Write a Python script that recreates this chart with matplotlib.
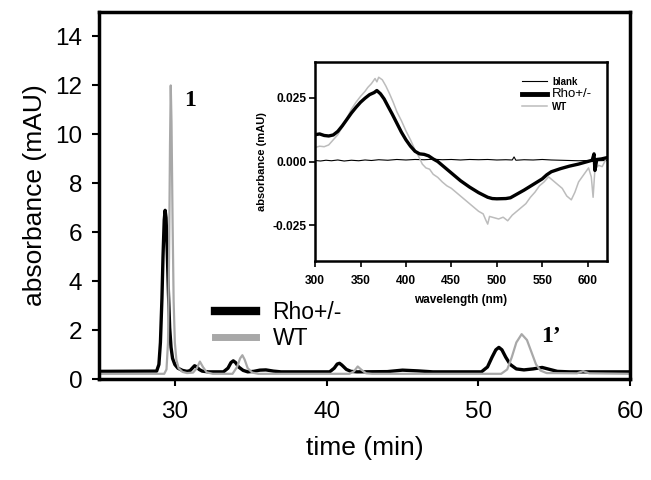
import matplotlib
matplotlib.use("Agg")
import matplotlib.pyplot as plt

plt.rcParams['font.family'] = ['Liberation Sans', 'DejaVu Sans']

# chromatogram, time (min) vs absorbance (mAU)
rho_t = [25.0, 28.8, 28.95, 29.05, 29.15, 29.22, 29.3, 29.36, 29.42, 29.5, 29.58, 29.66,
         29.75, 29.85, 30.0, 30.2, 30.5, 30.8, 31.0, 31.15, 31.3, 31.45, 31.6, 31.8, 32.2,
         33.2, 33.5, 33.7, 33.85, 34.0, 34.2, 34.5, 34.8, 35.2, 35.6, 36.0, 36.5, 37.0,
         40.2, 40.5, 40.7, 40.85, 41.0, 41.3, 41.6, 42.0, 44.0, 45.0, 46.0, 47.0,
         50.2, 50.6, 50.9, 51.15, 51.35, 51.55, 51.8, 52.1, 52.5, 53.0, 53.6, 54.2, 54.7,
         55.2, 56.0, 60.0]
rho_a = [0.32, 0.33, 0.6, 1.5, 3.3, 5.0, 6.5, 6.9, 6.6, 5.2, 3.5, 2.1,
         1.3, 0.85, 0.6, 0.45, 0.36, 0.32, 0.35, 0.45, 0.55, 0.5, 0.4, 0.33, 0.3,
         0.3, 0.45, 0.68, 0.75, 0.68, 0.5, 0.36, 0.3, 0.32, 0.37, 0.38, 0.33, 0.3,
         0.3, 0.45, 0.62, 0.65, 0.58, 0.4, 0.32, 0.3, 0.31, 0.37, 0.34, 0.3,
         0.3, 0.5, 0.9, 1.2, 1.3, 1.2, 0.9, 0.6, 0.42, 0.38, 0.42, 0.48, 0.4,
         0.32, 0.3, 0.3]

wt_t = [25.0, 29.3, 29.45, 29.55, 29.62, 29.68, 29.73, 29.78, 29.85, 29.92, 30.0, 30.1,
        30.25, 30.5, 30.8, 31.2, 31.45, 31.65, 31.85, 32.1, 32.5, 33.8, 34.1, 34.3, 34.45,
        34.6, 34.8, 35.1, 35.5, 41.5, 41.8, 42.05, 42.3, 42.6, 43.0, 51.5, 51.9, 52.2,
        52.5, 52.85, 53.2, 53.5, 53.8, 54.1, 54.5, 56.5, 56.9, 57.3, 60.0]
wt_a = [0.22, 0.22, 0.4, 1.5, 5.0, 9.5, 12.0, 10.5, 6.5, 3.2, 1.5, 0.8,
        0.45, 0.3, 0.25, 0.27, 0.45, 0.72, 0.5, 0.28, 0.22, 0.22, 0.5, 0.85, 0.98,
        0.8, 0.45, 0.27, 0.22, 0.22, 0.32, 0.52, 0.38, 0.24, 0.22, 0.22, 0.4, 0.9,
        1.5, 1.84, 1.6, 1.1, 0.6, 0.35, 0.25, 0.24, 0.33, 0.24, 0.22]

# inset spectra, wavelength (nm) vs absorbance
rho_nm = [300, 305, 310, 315, 320, 325, 330, 335, 340, 345, 350, 355, 360, 365, 368, 372,
          376, 380, 385, 390, 395, 400, 405, 410, 415, 420, 425, 430, 435, 440, 450, 460,
          470, 480, 490, 495, 500, 510, 515, 520, 530, 540, 550, 555, 560, 570, 580, 590,
          600, 605, 607, 608, 610, 615, 621]
rho_s = [0.0105, 0.0108, 0.0102, 0.0100, 0.0104, 0.0118, 0.0140, 0.0165, 0.0190, 0.0212,
         0.0232, 0.0248, 0.0262, 0.0270, 0.0278, 0.0265, 0.0245, 0.0218, 0.0185, 0.0150,
         0.0115, 0.0085, 0.0060, 0.0040, 0.0030, 0.0028, 0.0022, 0.0010, 0.0000, -0.0015,
         -0.0045, -0.0075, -0.0100, -0.0122, -0.0140, -0.0145, -0.0146, -0.0145, -0.0142,
         -0.0132, -0.0112, -0.0090, -0.0068, -0.0052, -0.0040, -0.0028, -0.0018, -0.0010,
         0.0000, 0.0005, 0.0030, -0.0035, 0.0008, 0.0010, 0.0015]

wt_nm = [300, 305, 310, 315, 320, 325, 330, 335, 340, 345, 350, 355, 358, 362, 366, 368,
         370, 374, 378, 382, 386, 390, 395, 400, 405, 410, 414, 418, 422, 426, 430, 435,
         440, 445, 450, 455, 460, 465, 470, 475, 480, 485, 488, 490, 492, 497, 502, 507,
         512, 517, 522, 527, 532, 537, 542, 547, 552, 557, 562, 567, 572, 577, 582, 586,
         590, 594, 598, 601, 604, 606, 608, 612, 616, 621]
wt_s = [0.0055, 0.0060, 0.0058, 0.0065, 0.0085, 0.0105, 0.0135, 0.0170, 0.0205, 0.0232,
        0.0255, 0.0275, 0.0290, 0.0305, 0.0325, 0.0312, 0.0330, 0.0320, 0.0295, 0.0265,
        0.0232, 0.0195, 0.0160, 0.0120, 0.0085, 0.0045, 0.0020, -0.0010, -0.0025, -0.0030,
        -0.0050, -0.0062, -0.0080, -0.0095, -0.0105, -0.0120, -0.0135, -0.0150, -0.0165,
        -0.0180, -0.0195, -0.0205, -0.0230, -0.0245, -0.0215, -0.0220, -0.0225, -0.0218,
        -0.0232, -0.0210, -0.0195, -0.0180, -0.0165, -0.0140, -0.0120, -0.0095, -0.0080,
        -0.0060, -0.0075, -0.0090, -0.0105, -0.0135, -0.0150, -0.0120, -0.0080, -0.0060,
        -0.0040, -0.0025, -0.0060, -0.0140, -0.0030, -0.0015, -0.0020, 0.0015]

blank_nm = [300, 306, 312, 318, 325, 332, 340, 348, 355, 362, 370, 380, 390, 400, 410,
            420, 430, 440, 450, 460, 470, 480, 490, 500, 510, 517, 519, 521, 530, 540,
            550, 560, 570, 580, 590, 600, 610, 621]
blank_s = [0.0004, 0.0002, 0.0005, 0.0003, 0.0006, 0.0002, 0.0005, 0.0003, 0.0006, 0.0004,
           0.0007, 0.0005, 0.0008, 0.0006, 0.0008, 0.0007, 0.0009, 0.0007, 0.0008, 0.0006,
           0.0008, 0.0007, 0.0008, 0.0006, 0.0007, 0.0006, 0.0018, 0.0005, 0.0007, 0.0006,
           0.0008, 0.0006, 0.0005, 0.0004, 0.0003, 0.0004, 0.0003, 0.0004]

fig = plt.figure(figsize=(6.51, 4.8), dpi=100)
ax = fig.add_axes([0.152, 0.210, 0.816, 0.765])

ax.plot(rho_t, rho_a, color='black', lw=2.4, label='Rho+/-', solid_joinstyle='round')
ax.plot(wt_t, wt_a, color='#a8a8a8', lw=1.6, label='WT')
ax.set_xlim(25, 60)
ax.set_ylim(0, 15)
ax.set_xticks([30, 40, 50, 60])
ax.set_yticks(range(0, 15, 2))
ax.set_xlabel('time (min)', fontsize=19, labelpad=9)
ax.set_ylabel('absorbance (mAU)', fontsize=19, labelpad=6)
ax.tick_params(labelsize=17.5, width=1.5, length=5, direction='out')
ax.tick_params(axis='x', pad=11)
ax.tick_params(axis='y', pad=7)
for s in ax.spines.values():
    s.set_linewidth(2.5)

leg = ax.legend(loc='upper left', bbox_to_anchor=(0.18, 0.27), frameon=False,
                fontsize=16.5, handlelength=1.8, handletextpad=0.7, labelspacing=0.15)
leg.get_lines()[0].set_linewidth(6)
leg.get_lines()[1].set_linewidth(5)

ax.text(31.0, 11.4, '1', family='Liberation Serif', fontweight='bold', fontsize=17,
        ha='center', va='center')
ax.text(54.8, 1.75, "1\u2019", family='Liberation Serif', fontweight='bold', fontsize=17,
        ha='center', va='center')

# inset
ins = fig.add_axes([0.484, 0.456, 0.448, 0.415])
ins.plot(blank_nm, blank_s, color='black', lw=0.8, label='blank')
ins.plot(wt_nm, wt_s, color='#bcbcbc', lw=1.1, label='WT')
ins.plot(rho_nm, rho_s, color='black', lw=2.4, label='Rho+/-')
ins.set_xlim(300, 621)
ins.set_ylim(-0.039, 0.039)
ins.set_xticks(range(300, 601, 50))
ins.set_yticks([-0.025, 0.0, 0.025])
ins.set_yticklabels(['-0.025', '0.000', '0.025'])
ins.tick_params(labelsize=8.6, width=1.2, length=4, direction='out')
ins.tick_params(axis='x', pad=6)
ins.tick_params(axis='y', pad=2)
for lab in ins.get_xticklabels() + ins.get_yticklabels():
    lab.set_fontweight('bold')
ins.set_xlabel('wavelength (nm)', fontsize=8.5, fontweight='bold', labelpad=5)
ins.set_ylabel('absorbance (mAU)', fontsize=8, fontweight='bold', labelpad=4)
for s in ins.spines.values():
    s.set_linewidth(1.8)

h, l = ins.get_legend_handles_labels()
order = [0, 2, 1]
ileg = ins.legend([h[i] for i in order], [l[i] for i in order], loc='upper right',
                  bbox_to_anchor=(0.98, 0.97), frameon=False, fontsize=7,
                  handlelength=2.6, handletextpad=0.5, labelspacing=0.15)
for t in ileg.get_texts():
    t.set_fontweight('bold')
ileg.get_texts()[1].set_fontweight('normal')
ileg.get_texts()[1].set_fontsize(9.5)
ileg.get_lines()[1].set_linewidth(3.5)

fig.savefig('out.png', dpi=100)
